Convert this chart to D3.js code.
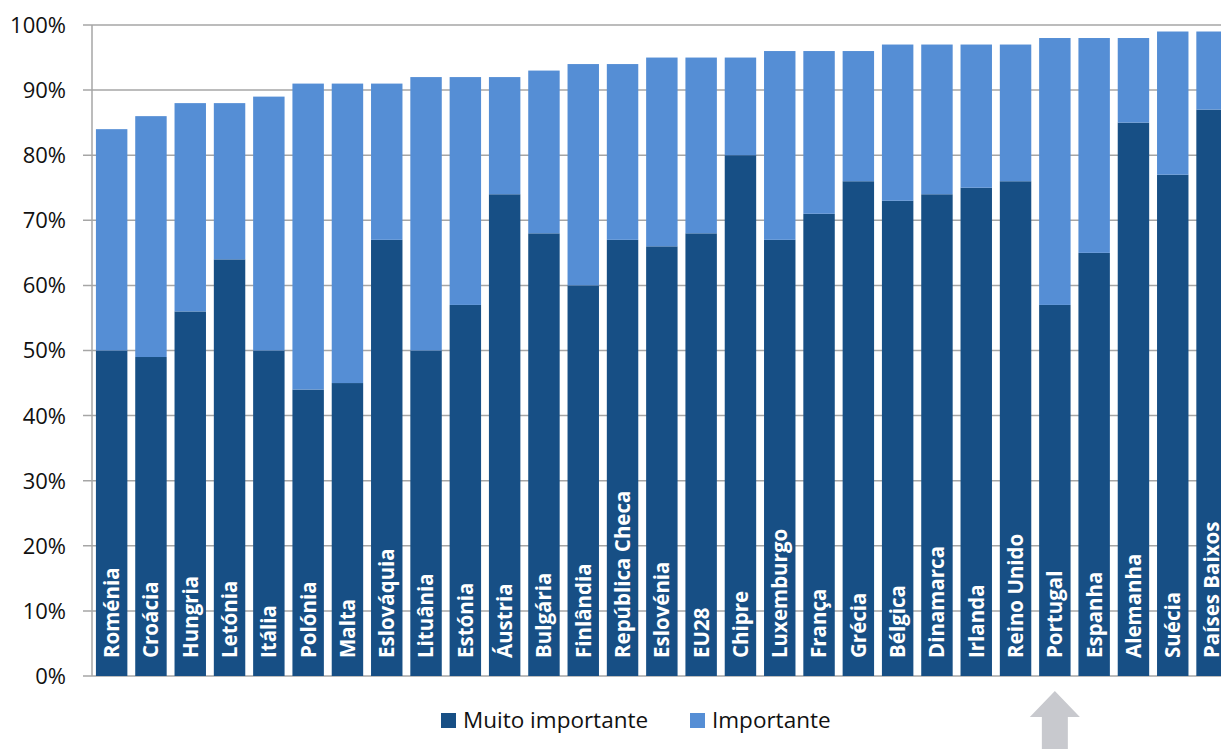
<!DOCTYPE html>
<html>
<head>
<meta charset="utf-8">
<script src="https://cdn.jsdelivr.net/npm/d3@7/dist/d3.min.js"></script>
<style>
  html, body { margin: 0; padding: 0; background: #fff; overflow: hidden; }
  svg { display: block; }
</style>
</head>
<body>
<svg id="chart" width="1221" height="749"></svg>
<script>
// Countries ordered by total share (Muito importante + Importante)
const countries = ["Roménia","Croácia","Hungria","Letónia","Itália","Polónia","Malta","Eslováquia","Lituânia","Estónia","Áustria","Bulgária","Finlândia","República Checa","Eslovénia","EU28","Chipre","Luxemburgo","França","Grécia","Bélgica","Dinamarca","Irlanda","Reino Unido","Portugal","Espanha","Alemanha","Suécia","Países Baixos"];
const muitoImportante = [50,49,56,64,50,44,45,67,50,57,74,68,60,67,66,68,80,67,71,76,73,74,75,76,57,65,85,77,87];
const importante      = [34,37,32,24,39,47,46,24,42,35,18,25,34,27,29,27,15,29,25,20,24,23,22,21,41,33,13,22,12];
const seriesNames = ["Muito importante","Importante"];
const yTicks = [0,10,20,30,40,50,60,70,80,90,100];
const highlighted = "Portugal";

const colors = { "Muito importante": "#174f85", "Importante": "#558ed5" };
const font = "Open Sans, Lato, sans-serif";

const svg = d3.select("#chart");
const plotLeft = 92, plotTop = 25, plotBottom = 676;
const step = 39.3;
const plotRight = plotLeft + step * countries.length;

const x = d3.scaleBand().domain(countries).range([plotLeft, plotRight]).paddingInner(0.2).paddingOuter(0.1);
const y = d3.scaleLinear().domain([0, 100]).range([plotBottom, plotTop]);

// gridlines and tick marks
svg.append("g")
  .selectAll("line")
  .data(yTicks)
  .join("line")
  .attr("x1", plotLeft - 9).attr("x2", 1221)
  .attr("y1", d => y(d)).attr("y2", d => y(d))
  .attr("stroke", "#a6a6a6").attr("stroke-width", 1.5);

// y tick labels
svg.append("g")
  .selectAll("text")
  .data(yTicks)
  .join("text")
  .attr("x", 66).attr("y", d => y(d))
  .attr("dy", "0.36em")
  .attr("text-anchor", "end")
  .attr("font-family", font)
  .attr("font-size", 22)
  .attr("fill", "#111")
  .text(d => d + "%");

// y axis line
svg.append("line")
  .attr("x1", plotLeft).attr("x2", plotLeft).attr("y1", plotTop).attr("y2", plotBottom)
  .attr("stroke", "#a6a6a6").attr("stroke-width", 1.5);

// stacked bars
const rows = countries.map((c, i) => ({ country: c, "Muito importante": muitoImportante[i], "Importante": importante[i] }));
const stacked = d3.stack().keys(seriesNames)(rows);

svg.append("g")
  .selectAll("g")
  .data(stacked)
  .join("g")
  .attr("fill", d => colors[d.key])
  .selectAll("rect")
  .data(d => d)
  .join("rect")
  .attr("x", d => x(d.data.country))
  .attr("width", x.bandwidth())
  .attr("y", d => y(d[1]))
  .attr("height", d => y(d[0]) - y(d[1]));

// country labels inside the bars
svg.append("g")
  .selectAll("text")
  .data(countries)
  .join("text")
  .attr("transform", d => `translate(${x(d) + x.bandwidth() / 2},${plotBottom - 18}) rotate(-90)`)
  .attr("dy", "0.36em")
  .attr("text-anchor", "start")
  .attr("font-family", font)
  .attr("font-weight", "bold")
  .attr("font-size", 20.5)
  .attr("fill", "#fff")
  .text(d => d);

// arrow under the highlighted country
const ax = x(highlighted) + x.bandwidth() / 2;
const arrow = d3.path();
arrow.moveTo(ax, 691);
arrow.lineTo(ax + 25, 717);
arrow.lineTo(ax + 13, 717);
arrow.lineTo(ax + 13, 749);
arrow.lineTo(ax - 13, 749);
arrow.lineTo(ax - 13, 717);
arrow.lineTo(ax - 25, 717);
arrow.closePath();
svg.append("path").attr("d", arrow.toString()).attr("fill", "#c8c9ce");

// legend
const legendItems = [{ name: seriesNames[0], x: 441 }, { name: seriesNames[1], x: 690 }];
const lg = svg.append("g")
  .selectAll("g")
  .data(legendItems)
  .join("g")
  .attr("transform", d => `translate(${d.x},713)`);
lg.append("rect").attr("width", 15).attr("height", 15).attr("fill", d => colors[d.name]);
lg.append("text")
  .attr("x", 22).attr("y", 15)
  .attr("font-family", font)
  .attr("font-size", 22.5)
  .attr("fill", "#111")
  .text(d => d.name);
</script>
</body>
</html>
